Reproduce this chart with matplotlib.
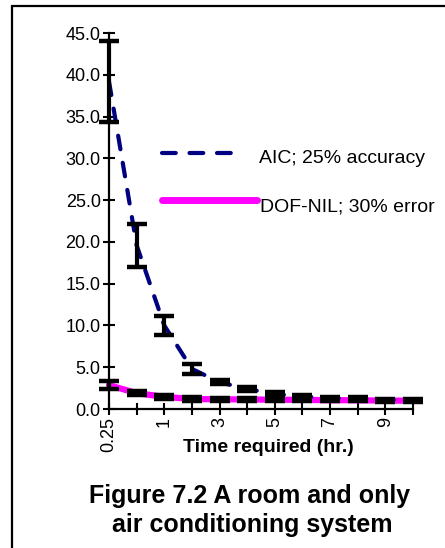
import matplotlib
matplotlib.use('Agg')
import matplotlib.pyplot as plt
from matplotlib.patches import Rectangle

plt.rcParams['font.family'] = ['Liberation Sans', 'DejaVu Sans']

# ---- data ----
time_labels = ['0.25', '0.5', '1', '2', '3', '4', '5', '6', '7', '8', '9', '10']
aic = [39.2, 19.6, 10.0, 4.8, 3.2, 2.4, 1.8, 1.5, 1.3, 1.3, 1.1, 1.1]
aic_err = [4.8, 2.6, 1.15, 0.6, 0.25, 0.25, 0.2, 0.2, 0.15, 0.15, 0.1, 0.1]
dof = [2.85, 1.9, 1.45, 1.2, 1.15, 1.15, 1.1, 1.1, 1.05, 1.05, 1.0, 1.0]
dof_err = [0.48, 0.25, 0.2, 0.2, 0.18, 0.18, 0.18, 0.15, 0.15, 0.15, 0.12, 0.12]
ytick_vals = [0, 5, 10, 15, 20, 25, 30, 35, 40, 45]
series_names = ['AIC; 25% accuracy', 'DOF-NIL; 30% error']

W, H = 445, 548
fig = plt.figure(figsize=(W / 100, H / 100), dpi=100)

# outer frame (left & top visible, continues past right/bottom edges)
fig.patches.append(Rectangle((12 / W, -0.5), 2.0, (1 - 6 / H) + 0.5,
                             transform=fig.transFigure, fill=False,
                             lw=1.6, ec='black'))

ax = fig.add_axes([109 / W, 139 / H, 304 / W, 376 / H])
x = list(range(len(time_labels)))

ax.plot(x, dof, color='#FF00FF', lw=4.5, solid_capstyle='round',
        solid_joinstyle='round', zorder=2, clip_on=False)
ax.plot(x, aic, color='#000080', lw=3, ls=(0, (3.3, 3.3)),
        dash_capstyle='round', zorder=3, clip_on=False)

for vals, errs in ((aic, aic_err), (dof, dof_err)):
    eb = ax.errorbar(x, vals, yerr=errs, fmt='none', ecolor='black',
                     elinewidth=3, capsize=7.5, capthick=3.2, zorder=4)
    for part in eb.lines:
        if part is None:
            continue
        if isinstance(part, (tuple, list)):
            for p in part:
                p.set_clip_on(False)
        else:
            part.set_clip_on(False)

ax.set_xlim(0, 11)
ax.set_ylim(0, 45)
ax.set_xticks(x)
ax.set_xticklabels([lbl if i % 2 == 0 else '' for i, lbl in enumerate(time_labels)],
                   rotation=90)
ax.set_yticks(ytick_vals)
ax.set_yticklabels([f'{v:.1f}' for v in ytick_vals])

for s in ('top', 'right'):
    ax.spines[s].set_visible(False)
for s in ('left', 'bottom'):
    ax.spines[s].set_linewidth(1.6)
ax.tick_params(direction='inout', length=8, width=1.5, labelsize=13,
               pad=2, colors='black')
ax.patch.set_alpha(0)

# manual legend
tr = ax.get_yaxis_transform()
ax.plot([0.174, 0.421], [30.6, 30.6], transform=tr, color='#000080', lw=3,
        ls=(0, (3.3, 3.3)), dash_capstyle='round', clip_on=False)
ax.plot([0.174, 0.487], [25.0, 25.0], transform=tr, color='#FF00FF', lw=5,
        solid_capstyle='round', clip_on=False)
ax.text(0.493, 30.0, series_names[0], transform=tr, fontsize=14,
        va='center', ha='left')
ax.text(0.497, 24.2, series_names[1], transform=tr, fontsize=14,
        va='center', ha='left')

fig.text(268 / W, 1 - 452 / H, 'Time required (hr.)', fontsize=14,
         fontweight='bold', ha='center', va='baseline')
fig.text(250 / W, 1 - 503 / H, 'Figure 7.2 A room and only', fontsize=18,
         fontweight='bold', ha='center', va='baseline')
fig.text(252 / W, 1 - 532 / H, 'air conditioning system', fontsize=18,
         fontweight='bold', ha='center', va='baseline')

fig.savefig('out.png', dpi=100)
